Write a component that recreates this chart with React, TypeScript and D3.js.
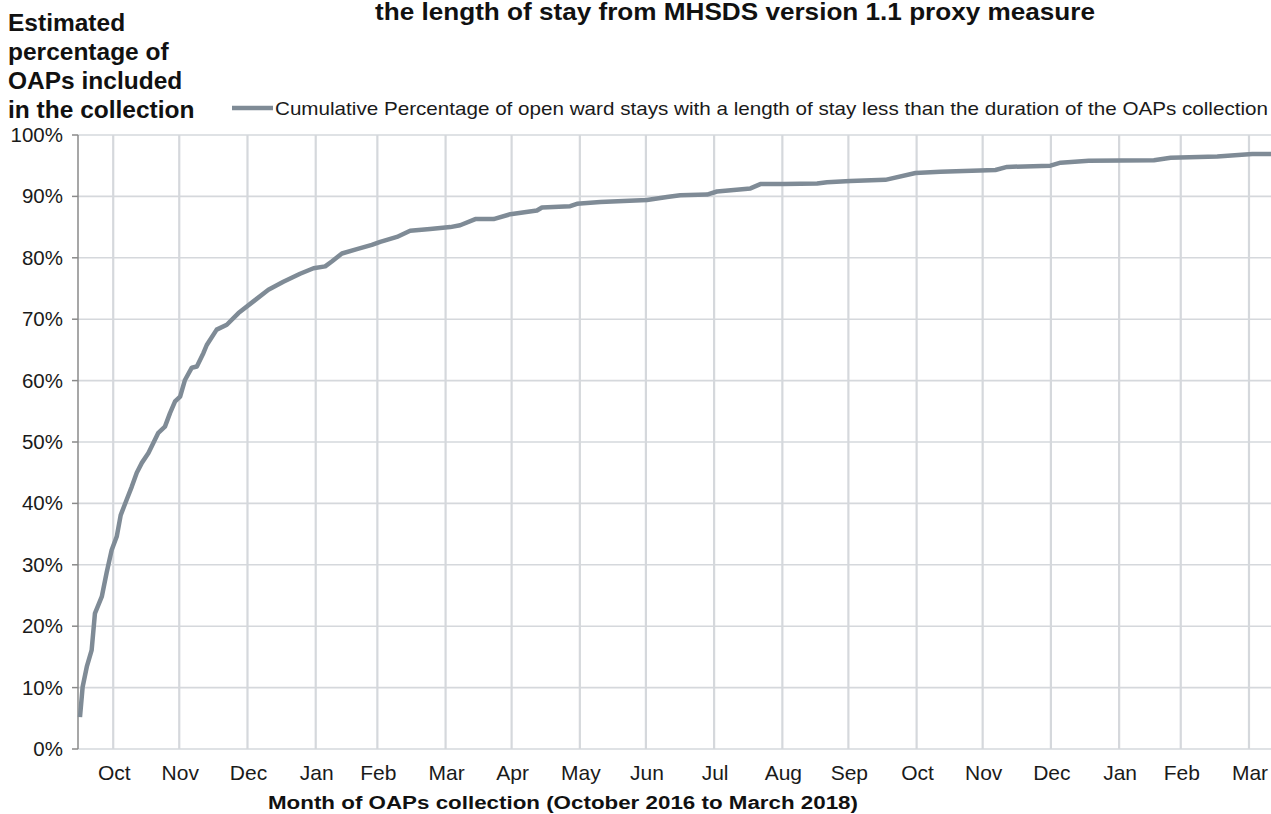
import * as d3 from "d3";

// days since 15 Oct 2016
const dayOffsets = [
  0.9, 2.1, 4.0, 6.2, 7.7, 10.8, 13.0, 15.3, 17.6, 19.4, 22.1, 24.4, 26.7, 29.0,
  32.0, 36.5, 39.5, 41.8, 44.1, 46.4, 48.6, 51.7, 54.0, 57.0, 58.5, 63.0, 67.6,
  72.9, 79.7, 86.5, 93.3, 100.9, 107.0, 112.3, 115.3, 119.9, 126.7, 133.5, 137.3,
  144.9, 150.9, 160.0, 169.1, 173.6, 180.5, 188.8, 196.4, 208.5, 210.8, 223.6,
  226.7, 237.3, 258.5, 267.6, 273.6, 285.8, 290.3, 305.5, 310.0, 320.6, 335.8,
  340.3, 350.9, 366.8, 380.5, 391.8, 416.8, 422.1, 441.8, 446.4, 459.2, 488.8,
  496.4, 517.6, 533.5, 542.3,
];

const cumulativePct = [
  5.2, 10.1, 13.4, 16.1, 22.1, 24.8, 28.7, 32.4, 34.6, 38.1, 40.6, 42.7, 45.0,
  46.6, 48.2, 51.5, 52.5, 54.7, 56.6, 57.4, 60.1, 62.1, 62.3, 64.5, 65.8, 68.3,
  69.1, 71.0, 72.9, 74.8, 76.1, 77.4, 78.3, 78.6, 79.4, 80.7, 81.4, 82.1, 82.6,
  83.4, 84.4, 84.7, 85.0, 85.3, 86.3, 86.3, 87.1, 87.7, 88.2, 88.4, 88.8, 89.1,
  89.4, 89.9, 90.2, 90.3, 90.8, 91.3, 92.0, 92.0, 92.1, 92.3, 92.5, 92.7, 93.8,
  94.0, 94.3, 94.8, 95.0, 95.5, 95.8, 95.9, 96.3, 96.5, 96.9, 96.9,
];

const monthLabels = [
  "Oct", "Nov", "Dec", "Jan", "Feb", "Mar", "Apr", "May", "Jun",
  "Jul", "Aug", "Sep", "Oct", "Nov", "Dec", "Jan", "Feb", "Mar",
];

const yTicks = [0, 10, 20, 30, 40, 50, 60, 70, 80, 90, 100];

const yTitleLines = ["Estimated", "percentage of", "OAPs included", "in the collection"];
const legendLabel =
  "Cumulative Percentage of open ward stays with a length of stay less than the duration of the OAPs collection";
const chartTitle = "the length of stay from MHSDS version 1.1 proxy measure";
const xTitle = "Month of OAPs collection (October 2016 to March 2018)";

const width = 1271;
const height = 814;
const margin = { top: 135, right: 0, bottom: 65, left: 78 };
const font = "'Liberation Sans', Arial, sans-serif";
const lineColor = "#7f8b96";
const gridColor = "#d5d8dc";

const start = new Date(2016, 9, 15);
const end = new Date(2018, 3, 10);
const toDate = (d: number) => new Date(start.getTime() + d * 864e5);

// tick at the last day of each month, Oct 2016 .. Mar 2018
const monthEnds = monthLabels.map((_, i) => d3.timeDay.offset(new Date(2016, 10 + i, 1), -1));

export default function App() {
  const x = d3.scaleTime().domain([start, end]).range([margin.left, width - margin.right]);
  const y = d3.scaleLinear().domain([0, 100]).range([height - margin.bottom, margin.top]);

  const points = dayOffsets.map((d, i) => ({ date: toDate(d), value: cumulativePct[i] }));
  const line = d3
    .line<{ date: Date; value: number }>()
    .x((d) => x(d.date))
    .y((d) => y(d.value));

  const x0 = x.range()[0];
  const x1 = x.range()[1];

  return (
    <svg
      width={width}
      height={height}
      style={{ position: "absolute", left: 0, top: 0, background: "#fff" }}
      fontFamily={font}
    >
      {/* horizontal grid */}
      {yTicks.map((t) => (
        <line key={"h" + t} x1={x0} x2={x1} y1={y(t)} y2={y(t)} stroke={gridColor} strokeWidth={1.6} />
      ))}
      {/* vertical grid */}
      {monthEnds.map((d, i) => (
        <line key={"v" + i} x1={x(d)} x2={x(d)} y1={y(100)} y2={y(0)} stroke={gridColor} strokeWidth={2.2} />
      ))}

      {/* y axis */}
      <line x1={x0} x2={x0} y1={y(100)} y2={y(0)} stroke="#8a8a8a" strokeWidth={1.5} />
      {yTicks.map((t) => (
        <g key={"yt" + t}>
          <line x1={x0 - 6} x2={x0} y1={y(t)} y2={y(t)} stroke="#8a8a8a" strokeWidth={1.5} />
          <text x={63} y={y(t) + 7} textAnchor="end" fontSize={20.5} fill="#1a1a1a">
            {t}%
          </text>
        </g>
      ))}

      {/* x labels */}
      {monthEnds.map((d, i) => (
        <text key={"xl" + i} x={x(d) + 1} y={780} textAnchor="middle" fontSize={21} fill="#1a1a1a">
          {monthLabels[i]}
        </text>
      ))}

      <path d={line(points) ?? ""} fill="none" stroke={lineColor} strokeWidth={4.5} strokeLinejoin="round" />

      {/* titles */}
      <text x={735} y={20} textAnchor="middle" fontSize={24} fontWeight="bold" fill="#111" textLength={720} lengthAdjust="spacingAndGlyphs">
        {chartTitle}
      </text>
      {yTitleLines.map((s, i) => (
        <text key={s} x={8} y={31 + i * 29} fontSize={24.5} fontWeight="bold" fill="#111">
          {s}
        </text>
      ))}
      <text x={563} y={809} textAnchor="middle" fontSize={18} fontWeight="bold" fill="#111" textLength={590} lengthAdjust="spacingAndGlyphs">
        {xTitle}
      </text>

      {/* legend */}
      <line x1={232} x2={273} y1={108} y2={108} stroke={lineColor} strokeWidth={4.5} />
      <text x={275} y={115} fontSize={19} fill="#1a1a1a" textLength={993} lengthAdjust="spacingAndGlyphs">
        {legendLabel}
      </text>
    </svg>
  );
}
